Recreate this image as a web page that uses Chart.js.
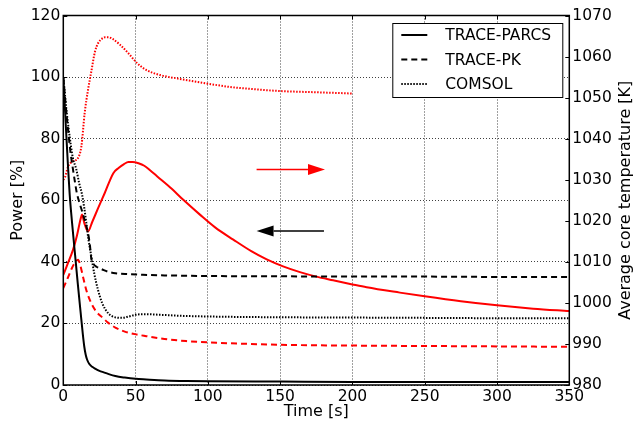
<!DOCTYPE html>
<html>
<head>
<meta charset="utf-8">
<script src="https://cdn.jsdelivr.net/npm/chart.js@4.4.1/dist/chart.umd.min.js"></script>
<style>
	html, body { margin: 0; padding: 0; background: #ffffff; }
	#wrap { width: 635px; height: 430px; }
</style>
</head>
<body>
<div id="wrap"><canvas id="Power" width="635" height="430"></canvas></div>
<script>
const powerCtx = document.getElementById('Power').getContext('2d');

// power [%] (left axis)
const parcsPowerT = [0, 1, 2.1, 3.2, 4.4, 6, 8, 10, 12, 13.5, 14.5, 15.5, 16.5, 18, 20, 22, 25, 28, 31, 36, 42.5, 50, 57.4, 70, 85, 100, 150, 200, 250, 300, 350];
const parcsPower = [100, 91, 81, 71.5, 62, 53, 43, 33, 23.5, 16.5, 12.5, 9.8, 8.2, 6.8, 5.9, 5.3, 4.6, 4.1, 3.6, 2.9, 2.4, 2.0, 1.8, 1.5, 1.3, 1.2, 1.1, 1.0, 1.0, 1.0, 1.0];

const pkPowerT = [0, 2, 3.7, 5, 6.7, 8.2, 9.5, 11.3, 13.3, 14.5, 16, 17.1, 18.5, 19.4, 21, 23, 25.2, 28, 30.9, 36, 45, 55, 70, 100, 150, 200, 250, 300, 350];
const pkPower = [100, 89, 81, 75.5, 70, 65.5, 62, 59, 56, 54, 51.5, 49.4, 45, 41, 39.2, 38.4, 37.9, 37.3, 36.8, 36.3, 36, 35.8, 35.6, 35.4, 35.3, 35.2, 35.2, 35.1, 35.1];

const comsolPowerT = [0, 2.5, 4.4, 6.5, 9, 11, 12.9, 14.5, 15.9, 17.5, 19.4, 21.5, 24, 27, 30.9, 34, 37, 40.4, 45, 50, 56.3, 66.9, 80, 106, 150, 200, 250, 300, 350];
const comsolPower = [100, 88, 80.7, 74, 70, 65.5, 62, 57.5, 52.7, 47, 41.7, 36, 30.9, 26.5, 23.4, 22.3, 21.9, 21.8, 22.2, 22.8, 23.0, 22.8, 22.5, 22.2, 22.0, 21.9, 21.8, 21.7, 21.7];

// average core temperature [K] (right axis)
const parcsTempT = [0, 3, 6.7, 9.5, 12, 12.9, 14.5, 17.1, 20, 24, 28.6, 34.6, 38, 42, 45, 48, 52, 56, 60, 65, 75, 83, 94.5, 105, 117.6, 130, 140.7, 152, 163.7, 175, 186.7, 200, 209.8, 232.8, 250, 275, 300, 325, 350];
const parcsTemp = [1006.8, 1009.5, 1012.9, 1016.5, 1020.5, 1021.5, 1019.5, 1017.4, 1019.7, 1023, 1026.7, 1031.6, 1032.8, 1033.8, 1034.3, 1034.3, 1034.0, 1033.4, 1032.3, 1030.8, 1027.8, 1025.1, 1021.5, 1018.4, 1015.4, 1012.6, 1010.6, 1008.9, 1007.5, 1006.4, 1005.5, 1004.5, 1003.8, 1002.5, 1001.6, 1000.4, 999.4, 998.6, 998.0];

const pkTempT = [0, 3, 6, 8.5, 10.2, 11.5, 13.6, 16, 19.4, 23, 27.5, 30.9, 36, 42.5, 50.8, 57.4, 70, 85, 106, 150, 200, 250, 300, 350];
const pkTemp = [1003.6, 1006, 1008.5, 1010, 1010.5, 1009.5, 1006.4, 1003, 999.9, 997.8, 996.3, 995.2, 994, 993, 992.3, 991.9, 991.2, 990.7, 990.3, 989.8, 989.6, 989.5, 989.4, 989.3];

const comsolTempT = [0, 1, 3.3, 6.7, 10.2, 12.5, 14.8, 17.1, 19.4, 21.9, 24, 26.6, 29, 31.1, 34, 39.2, 45, 50.8, 57, 66.9, 80, 89.9, 100, 115, 130, 150, 175, 200];
const comsolTemp = [1030, 1030.4, 1033.2, 1034.5, 1035.3, 1038.1, 1046.3, 1051.9, 1056.4, 1061.2, 1063.2, 1064.3, 1064.7, 1064.7, 1064.3, 1062.9, 1060.8, 1058.5, 1056.8, 1055.5, 1054.6, 1054.0, 1053.4, 1052.6, 1052.1, 1051.6, 1051.3, 1051.0];

// arrows: [y on power axis, from t, to t]
const arrowRed = [70, 133.7, 181];
const arrowBlack = [50, 180.3, 133.7];

const legendLabels = ['TRACE-PARCS', 'TRACE-PK', 'COMSOL'];
const legendDash = [[], [6, 4], [1.5, 1.5]];

const FONT = 'DejaVu Sans';

function pts(t, v) {
	return t.map((x, i) => ({x: x, y: v[i]}));
}

function line(label, t, v, color, dash, axis) {
	return {
		label: label,
		data: pts(t, v),
		borderColor: color,
		borderWidth: 2,
		borderDash: dash,
		pointRadius: 0,
		fill: false,
		cubicInterpolationMode: 'monotone',
		yAxisID: axis
	};
}

function drawArrow(ctx, chart, a, color) {
	const xs = chart.scales.x, ys = chart.scales.y;
	const y = ys.getPixelForValue(a[0]);
	const x0 = xs.getPixelForValue(a[1]);
	const x1 = xs.getPixelForValue(a[2]);
	const dir = x1 > x0 ? 1 : -1;
	const head = 17, half = 5.5;
	ctx.strokeStyle = color;
	ctx.fillStyle = color;
	ctx.lineWidth = 1.5;
	ctx.setLineDash([]);
	ctx.beginPath();
	ctx.moveTo(x0, y);
	ctx.lineTo(x1 - dir * head, y);
	ctx.stroke();
	ctx.beginPath();
	ctx.moveTo(x1, y);
	ctx.lineTo(x1 - dir * head, y - half);
	ctx.lineTo(x1 - dir * head, y + half);
	ctx.closePath();
	ctx.fill();
}

const decor = {
	id: 'decor',
	afterDatasetsDraw(chart) {
		const ctx = chart.ctx;
		const ca = chart.chartArea;
		ctx.save();

		// inward ticks
		ctx.strokeStyle = '#000';
		ctx.lineWidth = 1;
		ctx.setLineDash([]);
		ctx.beginPath();
		chart.scales.x.ticks.forEach(t => {
			const x = Math.round(chart.scales.x.getPixelForValue(t.value)) + 0.5;
			ctx.moveTo(x, ca.bottom); ctx.lineTo(x, ca.bottom - 4);
			ctx.moveTo(x, ca.top); ctx.lineTo(x, ca.top + 4);
		});
		chart.scales.y.ticks.forEach(t => {
			const y = Math.round(chart.scales.y.getPixelForValue(t.value)) + 0.5;
			ctx.moveTo(ca.left, y); ctx.lineTo(ca.left + 4, y);
		});
		chart.scales.y1.ticks.forEach(t => {
			const y = Math.round(chart.scales.y1.getPixelForValue(t.value)) + 0.5;
			ctx.moveTo(ca.right, y); ctx.lineTo(ca.right - 4, y);
		});
		ctx.stroke();

		drawArrow(ctx, chart, arrowRed, '#ff0000');
		drawArrow(ctx, chart, arrowBlack, '#000000');

		// frame
		ctx.strokeStyle = '#000';
		ctx.lineWidth = 1.5;
		ctx.strokeRect(ca.left, ca.top, ca.right - ca.left, ca.bottom - ca.top);

		// legend box
		const bw = 170, bh = 74;
		const bx = ca.right - 7 - bw, by = ca.top + 7.5;
		ctx.fillStyle = '#fff';
		ctx.fillRect(bx, by, bw, bh);
		ctx.lineWidth = 1;
		ctx.strokeRect(bx + 0.5, by + 0.5, bw, bh);
		ctx.font = '15.5px "' + FONT + '"';
		ctx.textBaseline = 'middle';
		ctx.textAlign = 'left';
		legendLabels.forEach((lab, i) => {
			const yy = by + 12 + i * 24.5;
			ctx.strokeStyle = '#000';
			ctx.lineWidth = 2;
			ctx.setLineDash(legendDash[i]);
			ctx.beginPath();
			ctx.moveTo(bx + 9, yy);
			ctx.lineTo(bx + 35, yy);
			ctx.stroke();
			ctx.setLineDash([]);
			ctx.fillStyle = '#000';
			ctx.fillText(lab, bx + 53, yy + 1);
		});

		// right axis title, reading bottom to top
		ctx.translate(626, (ca.top + ca.bottom) / 2);
		ctx.rotate(-Math.PI / 2);
		ctx.textAlign = 'center';
		ctx.font = '16px "' + FONT + '"';
		ctx.fillText('Average core temperature [K]', 0, 0);
		ctx.restore();
	}
};

const gridOpts = {
	color: 'rgba(0,0,0,0.75)',
	lineWidth: 1,
	drawTicks: false
};

const tickFont = {family: FONT, size: 15.5};
const titleFont = {family: FONT, size: 16};

window.power = new Chart(powerCtx, {
	type: 'line',
	data: {
		datasets: [
			line('TRACE-PARCS', parcsPowerT, parcsPower, '#000000', [], 'y'),
			line('TRACE-PK', pkPowerT, pkPower, '#000000', [6, 4], 'y'),
			line('COMSOL', comsolPowerT, comsolPower, '#000000', [1.5, 1.5], 'y'),
			line('TRACE-PARCS T', parcsTempT, parcsTemp, '#ff0000', [], 'y1'),
			line('TRACE-PK T', pkTempT, pkTemp, '#ff0000', [6, 4], 'y1'),
			line('COMSOL T', comsolTempT, comsolTemp, '#ff0000', [1.5, 1.5], 'y1')
		]
	},
	options: {
		responsive: false,
		animation: false,
		layout: {
			padding: {top: 15.5}
		},
		plugins: {
			legend: {display: false},
			tooltip: {enabled: false}
		},
		scales: {
			x: {
				type: 'linear',
				min: 0,
				max: 350,
				ticks: {stepSize: 50, color: '#000', font: tickFont, padding: 3, maxRotation: 0, callback: v => String(v)},
				grid: gridOpts,
				border: {display: false, dash: [1, 2]},
				title: {display: true, text: 'Time [s]', color: '#000', font: titleFont, padding: {top: 0, bottom: 9}},
				afterFit: s => { s.height = 45; }
			},
			y: {
				position: 'left',
				min: 0,
				max: 120,
				ticks: {stepSize: 20, color: '#000', font: tickFont, padding: 3, callback: v => String(v)},
				grid: gridOpts,
				border: {display: false, dash: [1, 2]},
				title: {display: true, text: 'Power [%]', color: '#000', font: titleFont, padding: {top: 8, bottom: 0}},
				afterFit: s => { s.width = 63.3; }
			},
			y1: {
				position: 'right',
				min: 980,
				max: 1070,
				ticks: {stepSize: 10, color: '#000', font: tickFont, padding: 3, callback: v => String(v)},
				grid: {display: false, drawTicks: false},
				border: {display: false},
				afterFit: s => { s.width = 65.7; }
			}
		}
	},
	plugins: [decor]
});
</script>
</body>
</html>
